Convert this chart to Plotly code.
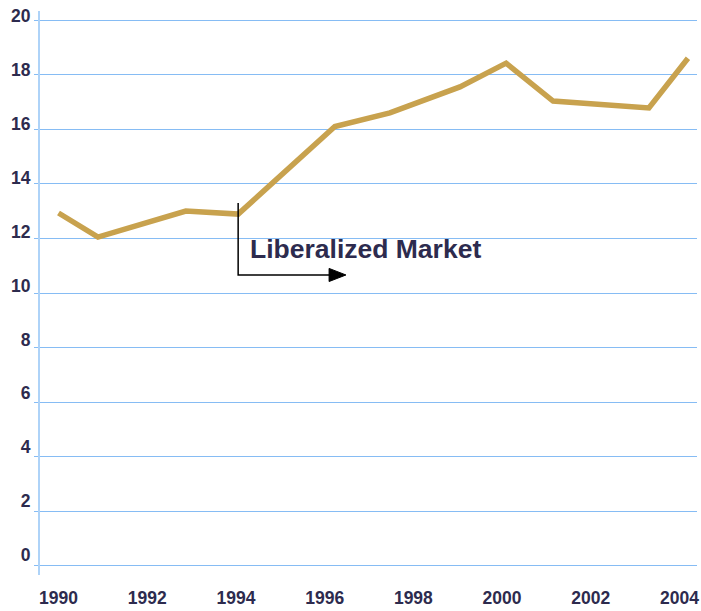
import plotly.graph_objects as go

# Data (x in fractional years, y values)
years = [1990.0, 1990.89, 1992.87, 1994.05, 1996.23, 1997.47, 1999.05, 2000.09, 2001.15, 2003.31, 2004.19]
values = [12.93, 12.05, 13.0, 12.89, 16.1, 16.6, 17.55, 18.42, 17.03, 16.78, 18.6]
x_ticks = [1990, 1992, 1994, 1996, 1998, 2000, 2002, 2004]
y_ticks = [0, 2, 4, 6, 8, 10, 12, 14, 16, 18, 20]
annotation_text = "Liberalized Market"
event_year = 1994.05

TEXT = "#2D2B4E"
GRID = "#86BCF4"
AXIS = "#AED3F8"
LINE = "#C8A24E"
FONT = "Liberation Sans, Arial, sans-serif"

fig = go.Figure()
fig.add_trace(go.Scatter(x=years, y=values, mode="lines",
                         line=dict(color=LINE, width=5.5), showlegend=False,
                         hoverinfo="skip"))
# invisible trace to carry the label axis
fig.add_trace(go.Scatter(x=[years[0]], y=[0], mode="markers", yaxis="y2",
                         marker=dict(opacity=0), showlegend=False, hoverinfo="skip"))

# arrow annotation (vertical then horizontal)
fig.add_shape(type="path", xref="x", yref="y",
              path=f"M {event_year},13.3 L {event_year},10.66 L 1996.14,10.66",
              line=dict(color="black", width=1.5))
fig.add_shape(type="path", xref="x", yref="y",
              path="M 1996.1,10.9 L 1996.48,10.66 L 1996.1,10.42 Z",
              fillcolor="black", line=dict(color="black", width=1))

fig.add_annotation(x=1994.27, y=11.6, xref="x", yref="y", text=annotation_text,
                   showarrow=False, xanchor="left", yanchor="middle",
                   font=dict(family=FONT, size=26.5, color=TEXT, weight="bold"))

fig.update_layout(
    width=701, height=611,
    margin=dict(l=40, r=4, t=11, b=36, autoexpand=False),
    paper_bgcolor="white", plot_bgcolor="white",
    xaxis=dict(range=[1989.583, 2004.394], tickvals=x_ticks, showgrid=False,
               zeroline=False, showline=False, ticks="", automargin=False,
               ticklabelstandoff=10, ticklabeloverflow="allow",
               tickfont=dict(family=FONT, size=17.5, color=TEXT, weight="bold")),
    yaxis=dict(range=[-0.33, 20.33], tickvals=y_ticks, showgrid=True,
               gridcolor=GRID, gridwidth=1, zeroline=False, automargin=False,
               showline=True, linecolor=AXIS, linewidth=2,
               ticks="outside", ticklen=4, tickcolor=GRID, tickwidth=1,
               showticklabels=False),
    yaxis2=dict(overlaying="y", side="left", range=[-0.742, 20.1855],
                tickvals=y_ticks, showgrid=False, zeroline=False, showline=False,
                automargin=False, ticklabeloverflow="allow",
                ticks="outside", ticklen=5, tickcolor="rgba(0,0,0,0)",
                tickfont=dict(family=FONT, size=17.5, color=TEXT, weight="bold")),
)

fig.write_html("out.html", config={"displayModeBar": False},
               post_script="document.body.style.margin='0';document.body.style.overflow='hidden';")
